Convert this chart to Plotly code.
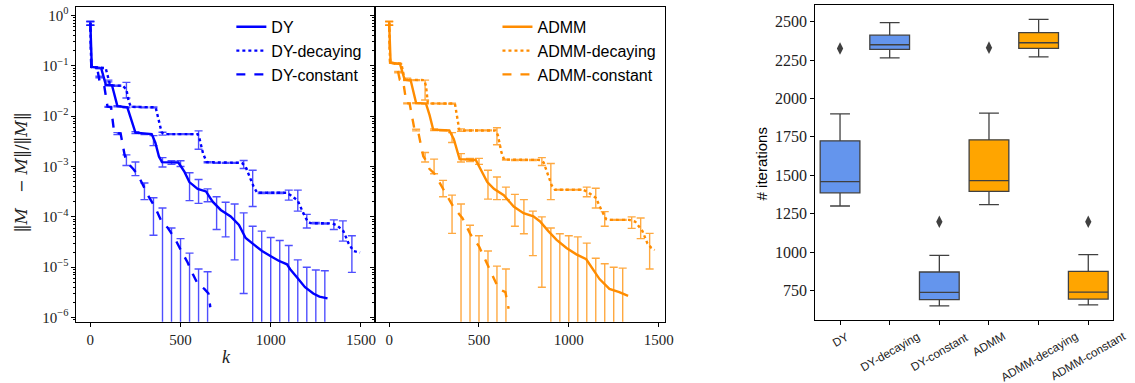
import plotly.graph_objects as go

# ---------------- data: left panel (DY family) ----------------
dy_line_k = [0, 8, 60, 70, 86, 120, 135, 150, 205, 225, 250, 340, 360, 380, 397, 488, 522, 549, 595, 641,
             678, 723, 778, 824, 861, 907, 952, 998, 1044, 1090, 1108, 1145, 1190, 1236, 1270, 1315]
dy_line_y = [0.72, 0.095, 0.09, 0.07, 0.042, 0.041, 0.025, 0.0158, 0.015, 0.009, 0.0047, 0.0044, 0.003, 0.0016,
             0.00122, 0.0012, 0.00078, 0.00049, 0.00036, 0.00032, 0.0002, 0.000137, 0.000102, 0.000069, 0.000038,
             0.000028, 0.000021, 0.0000167, 0.0000134, 0.0000114, 0.0000091, 0.0000063, 0.000004, 0.000003,
             0.0000026, 0.0000024]
dy_err_k = [0, 50, 100, 150, 200, 250, 300, 350, 400, 450, 500, 550, 600, 650, 700, 750, 800, 850, 900, 950,
            1000, 1050, 1100, 1150, 1200, 1250, 1300]
dy_err_y = [0.70, 0.09, 0.041, 0.0158, 0.015, 0.0047, 0.0044, 0.0033, 0.00125, 0.0012, 0.00118, 0.00048, 0.00036,
            0.00029, 0.00017, 0.00012, 0.00009, 0.00005, 0.00003, 0.000021, 0.0000167, 0.0000134, 0.0000112,
            0.0000068, 0.000004, 0.0000029, 0.0000026]
dy_err_hi = [0.76, 0.092, 0.042, 0.0162, 0.0153, 0.0049, 0.0045, 0.0041, 0.0015, 0.0013, 0.0013, 0.00075, 0.00055,
             0.00036, 0.00025, 0.000195, 0.00018, 0.00012, 0.000065, 0.000052, 0.000039, 0.000034, 0.000027,
             0.000014, 0.00001, 0.0000088, 0.0000085]
dy_err_lo = [0.64, 0.088, 0.040, 0.0154, 0.0147, 0.0045, 0.0043, 0.0026, 0.00098, 0.0011, 0.001, 0.00021, 0.000185,
             0.0002, 0.000056, 0.00004, 0.000014, 0.000003, 0, 0, 0, 0, 0, 0, 0, 0, 0]

dyd_line_k = [0, 5, 85, 100, 110, 180, 200, 212, 225, 362, 378, 395, 410, 595, 605, 625, 645, 840, 860, 880, 905,
              925, 1090, 1110, 1150, 1180, 1205, 1220, 1340, 1370, 1403, 1431, 1458, 1495]
dyd_line_y = [0.72, 0.095, 0.09, 0.052, 0.041, 0.04, 0.034, 0.02, 0.0153, 0.015, 0.0085, 0.0048, 0.0044, 0.0044,
              0.0036, 0.0018, 0.00122, 0.00118, 0.001, 0.00068, 0.0004, 0.0003, 0.0003, 0.00027, 0.00021, 0.00012,
              0.00008, 0.000075, 0.000074, 0.000067, 0.000052, 0.00003, 0.000021, 0.0000195]
dyd_err_k = [0, 50, 100, 150, 200, 250, 300, 350, 400, 450, 500, 550, 600, 650, 700, 750, 800, 850, 900, 950,
             1000, 1050, 1100, 1150, 1200, 1250, 1300, 1350, 1400, 1450]
dyd_err_y = [0.70, 0.09, 0.05, 0.04, 0.034, 0.0153, 0.015, 0.015, 0.0045, 0.0044, 0.0044, 0.0044, 0.0037, 0.00122,
             0.00118, 0.00118, 0.00118, 0.0011, 0.0005, 0.0003, 0.0003, 0.0003, 0.00028, 0.000235, 0.000085,
             0.000075, 0.000074, 0.000072, 0.000058, 0.000025]
dyd_err_hi = [0.76, 0.092, 0.052, 0.041, 0.047, 0.0156, 0.0153, 0.0153, 0.0048, 0.0045, 0.0045, 0.0045, 0.0051,
              0.00125, 0.0012, 0.0012, 0.0012, 0.00132, 0.00084, 0.00031, 0.00031, 0.00031, 0.00034, 0.00034,
              0.000112, 0.000077, 0.000076, 0.000087, 0.000083, 0.000042]
dyd_err_lo = [0.64, 0.088, 0.048, 0.039, 0.023, 0.015, 0.0147, 0.0147, 0.0042, 0.0043, 0.0043, 0.0043, 0.0022,
              0.00119, 0.00116, 0.00116, 0.00116, 0.00091, 0.00016, 0.00029, 0.00029, 0.00029, 0.000215, 0.00013,
              0.00006, 0.000073, 0.000072, 0.000056, 0.000033, 0.0000079]

dyc_line_k = [0, 5, 38, 45, 55, 77, 85, 95, 115, 122, 132, 168, 180, 190, 200, 211, 238, 266, 293, 321, 357, 394,
              430, 467, 504, 540, 568, 595, 632, 655, 665]
dyc_line_y = [0.72, 0.095, 0.09, 0.06, 0.041, 0.04, 0.025, 0.0155, 0.015, 0.009, 0.0047, 0.0045, 0.0025, 0.0017,
              0.0013, 0.00113, 0.00089, 0.00066, 0.00042, 0.00026, 0.00016, 0.000082, 0.00006, 0.000038, 0.000021,
              0.0000123, 0.0000073, 0.0000047, 0.0000037, 0.000003, 0.0000016]
dyc_err_k = [0, 50, 100, 150, 200, 250, 300, 350, 400, 450, 500, 550, 600, 650]
dyc_err_y = [0.70, 0.06, 0.0153, 0.0045, 0.0013, 0.00085, 0.00036, 0.00017, 0.00008, 0.000045, 0.000021, 0.000012,
             0.0000047, 0.000003]
dyc_err_hi = [0.76, 0.062, 0.0156, 0.0047, 0.0017, 0.00123, 0.00047, 0.00024, 0.00015, 0.00006, 0.000037, 0.000019,
              0.0000092, 0.0000081]
dyc_err_lo = [0.64, 0.058, 0.015, 0.0043, 0.00105, 0.00066, 0.00022, 0.000043, 0, 0, 0, 0, 0, 0]

# ---------------- data: middle panel (ADMM family) ----------------
ad_line_k = [0, 8, 60, 70, 86, 120, 135, 150, 205, 225, 245, 335, 360, 380, 392, 482, 509, 546, 583, 638, 693, 748,
             803, 840, 886, 932, 987, 1042, 1097, 1134, 1171, 1226, 1281, 1330]
ad_line_y = [0.72, 0.115, 0.11, 0.085, 0.053, 0.051, 0.03, 0.0182, 0.0178, 0.0105, 0.0054, 0.0052, 0.0035, 0.0019,
             0.0014, 0.00135, 0.0009, 0.00049, 0.00036, 0.00027, 0.00016, 0.000118, 0.000102, 0.000081, 0.000052,
             0.000035, 0.000024, 0.000018, 0.0000144, 0.0000091, 0.0000058, 0.0000037, 0.0000032, 0.0000027]
ad_err_k = [0, 50, 100, 150, 200, 250, 300, 350, 400, 450, 500, 550, 600, 650, 700, 750, 800, 850, 900, 950,
            1000, 1050, 1100, 1150, 1200, 1250, 1300]
ad_err_y = [0.70, 0.11, 0.052, 0.0182, 0.0178, 0.0054, 0.0052, 0.0038, 0.0015, 0.00135, 0.0013, 0.00053, 0.00042,
            0.0003, 0.00017, 0.000133, 0.0001, 0.00006, 0.000045, 0.000033, 0.000024, 0.000018, 0.0000145,
            0.0000078, 0.0000055, 0.000004, 0.000003]
ad_err_hi = [0.76, 0.112, 0.053, 0.0186, 0.018, 0.0056, 0.0053, 0.0047, 0.0018, 0.00145, 0.00145, 0.00084, 0.00062,
             0.00039, 0.00028, 0.00022, 0.00013, 0.0001, 0.00006, 0.000046, 0.000042, 0.00004, 0.00003, 0.000015,
             0.0000117, 0.00001, 0.0000096]
ad_err_lo = [0.64, 0.108, 0.051, 0.0178, 0.0176, 0.0052, 0.0051, 0.003, 0.00123, 0.00125, 0.0011, 0.000225, 0.00022,
             0.00022, 0.000065, 0.000046, 0.000017, 0.000004, 0, 0, 0, 0, 0, 0, 0, 0, 0]

add_line_k = [0, 5, 68, 78, 86, 195, 205, 215, 225, 366, 378, 390, 400, 592, 605, 625, 640, 840, 860, 885, 905, 923,
              1079, 1100, 1150, 1180, 1208, 1220, 1336, 1370, 1410, 1437, 1460, 1478]
add_line_y = [0.72, 0.115, 0.11, 0.07, 0.053, 0.052, 0.04, 0.0185, 0.0178, 0.0178, 0.009, 0.0054, 0.0052, 0.0052,
              0.0042, 0.0019, 0.00137, 0.00135, 0.0012, 0.0007, 0.00042, 0.000345, 0.000345, 0.00032, 0.00024,
              0.00014, 0.00009, 0.000087, 0.000087, 0.00008, 0.000052, 0.00003, 0.000024, 0.000022]
add_err_k = [0, 50, 100, 150, 200, 250, 300, 350, 400, 450, 500, 550, 600, 650, 700, 750, 800, 850, 900, 950,
             1000, 1050, 1100, 1150, 1200, 1250, 1300, 1350, 1400, 1450]
add_err_y = [0.70, 0.11, 0.055, 0.052, 0.036, 0.0179, 0.0178, 0.0178, 0.0053, 0.0052, 0.0052, 0.0052, 0.0043,
             0.00137, 0.00135, 0.00135, 0.00135, 0.00127, 0.00068, 0.000345, 0.000345, 0.000345, 0.00032, 0.00026,
             0.000096, 0.000087, 0.000087, 0.00008, 0.000066, 0.000028]
add_err_hi = [0.76, 0.112, 0.057, 0.053, 0.052, 0.0181, 0.0181, 0.0181, 0.0056, 0.0053, 0.0053, 0.0053, 0.0059,
              0.0014, 0.00138, 0.00138, 0.00138, 0.0015, 0.00115, 0.00035, 0.00035, 0.00035, 0.00039, 0.00037,
              0.000127, 0.000089, 0.000089, 0.0001, 0.000095, 0.000047]
add_err_lo = [0.64, 0.108, 0.053, 0.051, 0.021, 0.0176, 0.0175, 0.0175, 0.005, 0.0051, 0.0051, 0.0051, 0.0027,
              0.00134, 0.00132, 0.00132, 0.00132, 0.00105, 0.00022, 0.00034, 0.00034, 0.00034, 0.00025, 0.00015,
              0.000065, 0.000085, 0.000085, 0.000059, 0.000037, 0.0000092]

adc_line_k = [0, 5, 40, 50, 59, 77, 87, 96, 114, 125, 141, 160, 175, 190, 200, 224, 252, 279, 325, 362, 408, 454,
              500, 537, 573, 610, 647, 665]
adc_line_y = [0.72, 0.115, 0.11, 0.075, 0.053, 0.052, 0.03, 0.0182, 0.0178, 0.01, 0.0054, 0.0052, 0.0028, 0.0016,
              0.0014, 0.0009, 0.00072, 0.00049, 0.00025, 0.000148, 0.000094, 0.000044, 0.000026, 0.0000134,
              0.0000073, 0.0000037, 0.0000032, 0.0000015]
adc_err_k = [0, 50, 100, 150, 200, 250, 300, 350, 400, 450, 500, 550, 600, 650]
adc_err_y = [0.70, 0.075, 0.018, 0.0053, 0.0015, 0.001, 0.0004, 0.00018, 0.0001, 0.000044, 0.000026, 0.000012,
             0.0000046, 0.0000033]
adc_err_hi = [0.76, 0.077, 0.0183, 0.0055, 0.0019, 0.0014, 0.00053, 0.00027, 0.00018, 0.000068, 0.000042, 0.000021,
              0.0000105, 0.0000092]
adc_err_lo = [0.64, 0.073, 0.0177, 0.0051, 0.00123, 0.00072, 0.00025, 0.000047, 0, 0, 0, 0, 0, 0]

# ---------------- data: right panel (box plot) ----------------
box_labels = ["DY", "DY-decaying", "DY-constant", "ADMM", "ADMM-decaying", "ADMM-constant"]
box_low = [1300, 2264, 649, 1309, 2271, 656]
box_q1 = [1386, 2320, 690, 1395, 2326, 694]
box_med = [1459, 2350, 737, 1465, 2363, 739]
box_q3 = [1724, 2412, 870, 1731, 2429, 874]
box_high = [1900, 2494, 979, 1904, 2515, 983]
outlier_labels = ["DY", "DY-constant", "ADMM", "ADMM-constant"]
outlier_values = [2325, 1197, 2331, 1197]

log_tick_vals = [1e0, 1e-1, 1e-2, 1e-3, 1e-4, 1e-5, 1e-6]
log_tick_text = ["10<sup>0</sup>", "10<sup>−1</sup>", "10<sup>−2</sup>", "10<sup>−3</sup>",
                 "10<sup>−4</sup>", "10<sup>−5</sup>", "10<sup>−6</sup>"]
k_ticks = [0, 500, 1000, 1500]
iter_ticks = [750, 1000, 1250, 1500, 1750, 2000, 2250, 2500]

# ---------------- styling ----------------
W, H = 1135, 383
BLUE = "#0000FF"
BLUE_ERR = "rgba(20,20,255,0.75)"
ORANGE = "#FF8C00"
ORANGE_ERR = "rgba(255,140,0,0.75)"
SERIF = "Liberation Serif"
SANS = "Liberation Sans"


def px_x(p):
    return p / W


def px_y(p):
    return 1 - p / H


fig = go.Figure()

series = [
    ("DY", "solid", dy_line_k, dy_line_y, dy_err_k, dy_err_y, dy_err_hi, dy_err_lo, BLUE, BLUE_ERR, "x", "y", "legend"),
    ("DY-decaying", "dot", dyd_line_k, dyd_line_y, dyd_err_k, dyd_err_y, dyd_err_hi, dyd_err_lo, BLUE, BLUE_ERR, "x", "y", "legend"),
    ("DY-constant", "dash", dyc_line_k, dyc_line_y, dyc_err_k, dyc_err_y, dyc_err_hi, dyc_err_lo, BLUE, BLUE_ERR, "x", "y", "legend"),
    ("ADMM", "solid", ad_line_k, ad_line_y, ad_err_k, ad_err_y, ad_err_hi, ad_err_lo, ORANGE, ORANGE_ERR, "x2", "y2", "legend2"),
    ("ADMM-decaying", "dot", add_line_k, add_line_y, add_err_k, add_err_y, add_err_hi, add_err_lo, ORANGE, ORANGE_ERR, "x2", "y2", "legend2"),
    ("ADMM-constant", "dash", adc_line_k, adc_line_y, adc_err_k, adc_err_y, adc_err_hi, adc_err_lo, ORANGE, ORANGE_ERR, "x2", "y2", "legend2"),
]

for name, dash, lk, ly, ek, ey, ehi, elo, col, ecol, xa, ya, lg in series:
    fig.add_trace(go.Scatter(
        x=ek, y=ey, mode="markers", marker=dict(size=1, opacity=0, color=col),
        error_y=dict(type="data", symmetric=False,
                     array=[h - v for h, v in zip(ehi, ey)],
                     arrayminus=[v - l for l, v in zip(elo, ey)],
                     color=ecol, thickness=1.4, width=4),
        xaxis=xa, yaxis=ya, showlegend=False, hoverinfo="skip"))
    fig.add_trace(go.Scatter(
        x=lk, y=ly, mode="lines", name=name,
        line=dict(color=col, width=2.4, dash=dash),
        xaxis=xa, yaxis=ya, legend=lg))

BOX_COLORS = ["#6495ED", "#6495ED", "#6495ED", "#FFA500", "#FFA500", "#FFA500"]
for i, lab in enumerate(box_labels):
    fig.add_trace(go.Box(
        x=[lab], q1=[box_q1[i]], median=[box_med[i]], q3=[box_q3[i]],
        lowerfence=[box_low[i]], upperfence=[box_high[i]],
        fillcolor=BOX_COLORS[i], line=dict(color="#404040", width=1.3),
        width=0.8, whiskerwidth=0.5, boxpoints=False, showlegend=False,
        xaxis="x3", yaxis="y3"))

fig.add_trace(go.Scatter(
    x=outlier_labels, y=outlier_values, mode="markers",
    marker=dict(symbol="diamond-tall", size=9, color="#404040"),
    xaxis="x3", yaxis="y3", showlegend=False))

minor_log = [m * 10.0 ** e for e in range(-7, 1) for m in range(2, 10)]

common_x = dict(showline=True, linecolor="black", linewidth=1, mirror=True, ticks="outside", ticklen=4,
                tickcolor="black", showgrid=False, zeroline=False,
                tickfont=dict(family=SERIF, size=15, color="#222"))
common_logy = dict(type="log", range=[-6.084, 0.17], showline=True, linecolor="black", linewidth=1, mirror=True,
                   ticks="outside", ticklen=4, tickcolor="black", showgrid=False, zeroline=False,
                   tickmode="array", tickvals=log_tick_vals, ticktext=log_tick_text,
                   minor=dict(ticks="outside", ticklen=2, tickcolor="black", tickmode="array",
                              tickvals=minor_log, showgrid=False),
                   tickfont=dict(family=SERIF, size=15, color="#222"))

# rotated category labels of the box plot, centred under each tick (matplotlib style)
ARIAL_W = {"A": .667, "D": .722, "M": .833, "Y": .667, "-": .333, "a": .556, "c": .5, "d": .556, "e": .556,
           "g": .556, "i": .222, "n": .556, "o": .556, "s": .5, "t": .278, "y": .5}
LAB_FS = 11.7
annotations = []
for lab in box_labels:
    w = sum(ARIAL_W.get(ch, .55) for ch in lab) * LAB_FS
    cy = 333 + (w * 0.5 + LAB_FS * 0.95) / 2
    annotations.append(dict(text=lab, x=lab, xref="x3", y=px_y(cy), yref="paper", showarrow=False,
                            textangle=-30, xanchor="center", yanchor="middle",
                            font=dict(family=SANS, size=LAB_FS, color="#222")))

annotations += [
    dict(text="‖<i>M</i>\u00a0\u00a0\u00a0−\u00a0<i>M</i>‖/‖<i>M</i>‖", x=px_x(22), y=px_y(174), xref="paper",
         yref="paper", showarrow=False, textangle=-90, font=dict(family="DejaVu Serif", size=16, color="#222"),
         xanchor="center", yanchor="middle"),
    dict(text="<i>k</i>", x=px_x(228), y=px_y(361), xref="paper", yref="paper", showarrow=False,
         font=dict(family=SERIF, size=18, color="#222"), xanchor="center", yanchor="middle"),
    dict(text="# iterations", x=px_x(767), y=px_y(165), xref="paper", yref="paper", showarrow=False,
         textangle=-90, font=dict(family=SANS, size=15, color="black"), xanchor="center", yanchor="middle"),
]

fig.update_layout(
    width=W, height=H, margin=dict(l=0, r=0, t=0, b=0),
    plot_bgcolor="white", paper_bgcolor="white",
    boxmode="overlay",
    xaxis=dict(domain=[px_x(77), px_x(378)], anchor="y", range=[-77, 1580],
               tickmode="array", tickvals=k_ticks, **common_x),
    yaxis=dict(domain=[px_y(325), px_y(6)], anchor="x", **common_logy),
    xaxis2=dict(domain=[px_x(378), px_x(670)], anchor="y2", range=[-77, 1537],
                tickmode="array", tickvals=k_ticks, **common_x),
    yaxis2=dict(domain=[px_y(325), px_y(6)], anchor="x2", showticklabels=False, **common_logy),
    xaxis3=dict(domain=[px_x(821), px_x(1121)], anchor="y3", type="category", range=[-0.5, 5.5],
                categoryorder="array", categoryarray=box_labels, showticklabels=False,
                showline=True, linecolor="black", linewidth=1, mirror=True, ticks="outside", ticklen=4,
                tickcolor="black", showgrid=False, zeroline=False),
    yaxis3=dict(domain=[px_y(323), px_y(4)], anchor="x3", range=[559, 2609],
                tickmode="array", tickvals=iter_ticks,
                showline=True, linecolor="black", linewidth=1, mirror=True, ticks="outside", ticklen=4,
                tickcolor="black", showgrid=False, zeroline=False,
                tickfont=dict(family=SERIF, size=16, color="#222")),
    legend=dict(x=px_x(233), y=px_y(9), xanchor="left", yanchor="top", bgcolor="rgba(0,0,0,0)",
                borderwidth=0, font=dict(family=SANS, size=16, color="black"), tracegroupgap=0),
    legend2=dict(x=px_x(501), y=px_y(9), xanchor="left", yanchor="top", bgcolor="rgba(0,0,0,0)",
                 borderwidth=0, font=dict(family=SANS, size=16, color="black"), tracegroupgap=0),
    annotations=annotations,
)

fig.write_html("out.html", config={"displayModeBar": False},
               post_script="document.body.style.margin='0px';")
